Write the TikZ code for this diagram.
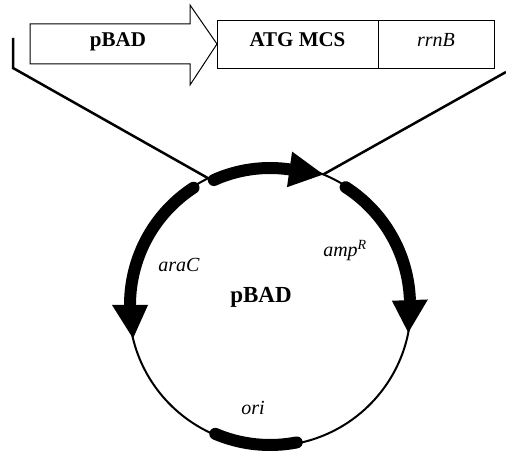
\documentclass[tikz,border=0pt]{standalone}
\usepackage{fontspec}
\setmainfont{Liberation Serif}
\begin{document}
\begin{tikzpicture}[x=1pt,y=1pt,
  thinline/.style={line width=2pt},
  boxline/.style={line width=1pt},
  gene/.style={line width=12pt,line cap=round},
  lbl/.style={inner sep=0pt,anchor=base,font=\fontsize{20}{22}\selectfont\itshape},
  blbl/.style={inner sep=0pt,anchor=base,font=\fontsize{21}{24}\selectfont\bfseries}]
\useasboundingbox (0,0) rectangle (506,452);
\coordinate (c) at (270,147);
% plasmid circle
\draw[thinline] (c) circle[radius=141];
% top insert
\draw[boxline] (30,428) -- (190,428) -- (190,447) -- (217,408) -- (190,367) -- (190,388) -- (30,388) -- cycle;
\draw[boxline] (217,383) rectangle (494,431);
\draw[boxline] (378,383) -- (378,431);
\node[blbl] (pbadt) at (118,405) {pBAD};
\node[blbl] (mcs) at (297.5,405) {ATG MCS};
\node[lbl] (rrnb) at (436,405) {rrnB};
% bracket lines
\coordinate (lt) at (13,414);
\coordinate (lb) at (13,384);
\coordinate (lc) at ([shift={(116:141)}]c);
\coordinate (rt) at (506,380);
\coordinate (rc) at ([shift={(67.8:141)}]c);
\draw[line width=2.5pt] (lt) -- (lb) -- (lc);
\draw[line width=2.5pt] (rt) -- (rc);
% top gene (pBAD)
\draw[gene] ([shift={(114.2:137)}]c) arc[start angle=114.2,end angle=82,radius=137];
\fill ([shift={(81.8:119)}]c) -- ([shift={(81.8:155)}]c) -- (rc) -- cycle;
% ampR
\draw[gene] ([shift={(57.3:140)}]c) arc[start angle=57.3,end angle=2.5,radius=140];
\fill ([shift={(2:122)}]c) -- ([shift={(2:158)}]c) -- ([shift={(-11.3:141)}]c) -- cycle;
% araC
\draw[gene] ([shift={(123.1:140)}]c) arc[start angle=123.1,end angle=179.5,radius=140];
\fill ([shift={(180:122)}]c) -- ([shift={(180:158)}]c) -- ([shift={(193.7:141)}]c) -- cycle;
% ori
\draw[gene] ([shift={(247:140)}]c) arc[start angle=247,end angle=281,radius=140];
% labels
\node[lbl] (arac) at (179,180) {araC};
\node[lbl] (amp) at (345,195) {amp\textsuperscript{R}};
\node[inner sep=0pt,anchor=base,font=\fontsize{23}{26}\selectfont\bfseries] (pbadc) at (261,149) {pBAD};
\node[lbl] (ori) at (253,37) {ori};
\end{tikzpicture}
\end{document}
